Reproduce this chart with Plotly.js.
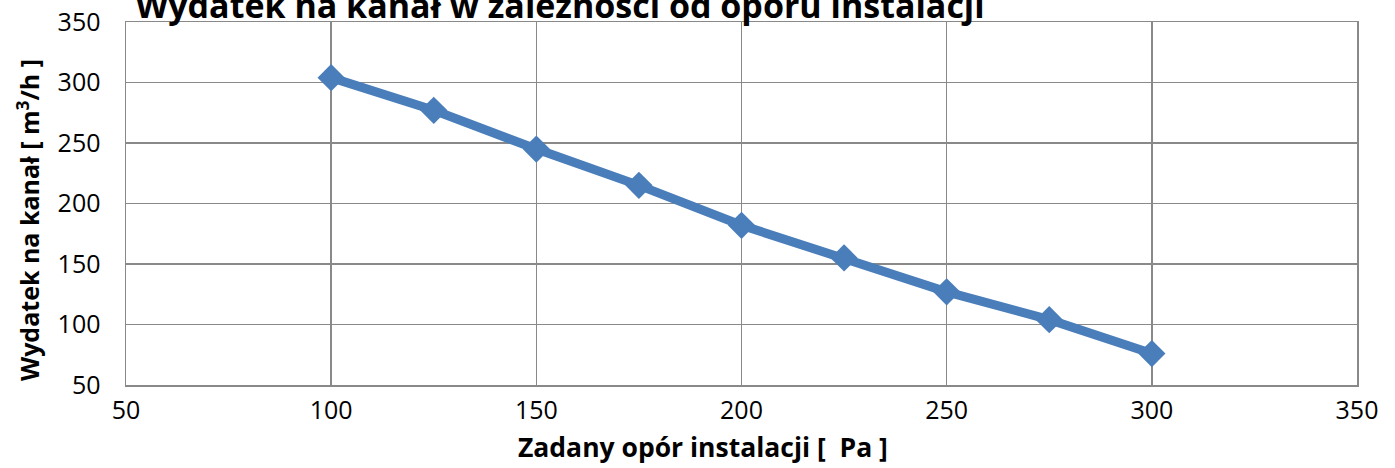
<!DOCTYPE html>
<html>
<head>
<meta charset="utf-8">
<script src="https://cdn.plot.ly/plotly-3.0.1.min.js"></script>
<style>html,body{margin:0;padding:0;background:#fff;}#chart{width:1395px;height:468px;}</style>
</head>
<body>
<div id="chart"></div>
<script>
const pressure = [100, 125, 150, 175, 200, 225, 250, 275, 300];
const flow = [304, 277, 245, 215, 182, 155, 127, 104, 76];
const chartTitle = "Wydatek na kanał w zależności od oporu instalacji";
const xTitle = "Zadany opór instalacji [  Pa ]";
const yTitle = "Wydatek na kanał [ m<sup>3</sup>/h ]";

const font = "Open Sans, Liberation Sans, sans-serif";
const trace = {
  x: pressure, y: flow, type: "scatter", mode: "lines+markers",
  line: {color: "#4a7ebb", width: 9},
  marker: {symbol: "diamond", size: 21, color: "#4a7ebb"},
  hoverinfo: "x+y"
};
const layout = {
  width: 1395, height: 468,
  margin: {l: 126, r: 38, t: 22, b: 83},
  paper_bgcolor: "#fff", plot_bgcolor: "#fff",
  showlegend: false,
  title: {text: "<b>" + chartTitle + "</b>", font: {family: font, size: 34, color: "#000"},
          xref: "container", x: 560/1395, xanchor: "center", yref: "container", y: 0.988, yanchor: "middle"},
  xaxis: {range: [50, 350], dtick: 50, tick0: 50, showgrid: true, gridcolor: "#898989", gridwidth: 1.5,
          showline: true, linecolor: "#898989", linewidth: 1.5, mirror: true, zeroline: false,
          ticks: "", ticklabelstandoff: 2, tickfont: {family: font, size: 25, color: "#000"}},
  yaxis: {range: [50, 350], dtick: 50, tick0: 50, showgrid: true, gridcolor: "#898989", gridwidth: 1.5,
          showline: true, linecolor: "#898989", linewidth: 1.5, mirror: true, zeroline: false,
          ticks: "", ticklabelstandoff: 19, tickfont: {family: font, size: 25, color: "#000"}},
  annotations: [
    {text: "<b>" + xTitle + "</b>", font: {family: font, size: 26.5, color: "#000"}, showarrow: false,
     xref: "paper", yref: "paper", x: 0.4687, y: -0.172, xanchor: "center", yanchor: "middle"},
    {text: "<b>" + yTitle + "</b>", font: {family: font, size: 25, color: "#000"}, showarrow: false, textangle: -90,
     xref: "paper", yref: "paper", x: -0.0796, y: 0.4545, xanchor: "center", yanchor: "middle"}
  ]
};
Plotly.newPlot("chart", [trace], layout, {displayModeBar: false, staticPlot: true});
</script>
</body>
</html>
